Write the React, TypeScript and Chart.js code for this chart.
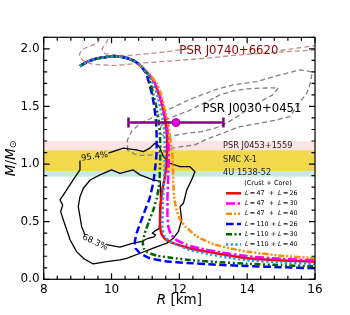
import React, { useEffect, useRef } from 'react';
import { Chart, registerables } from 'chart.js';
Chart.register(...registerables);

type P = [number, number];

// ---------- axes ----------
const X_MIN = 8, X_MAX = 16, Y_MIN = 0, Y_MAX = 2.1;
const X_STEP = 2, Y_STEP = 0.5;
const X_MINOR = 0.4, Y_MINOR = 0.1;

// ---------- mass-radius curves (R [km], M/Msun) ----------
const commonTop: P[] = [
  [9.07, 1.85], [9.3, 1.89], [9.6, 1.918], [9.9, 1.932], [10.15, 1.935],
  [10.45, 1.92], [10.7, 1.89], [10.88, 1.845],
];
const curve47_26: P[] = [
  [11.1, 1.78], [11.28, 1.7], [11.4, 1.6], [11.48, 1.53], [11.56, 1.42], [11.61, 1.32],
  [11.64, 1.2], [11.63, 1.04], [11.58, 0.9], [11.5, 0.78], [11.45, 0.65], [11.43, 0.5],
  [11.45, 0.42], [11.52, 0.37], [11.65, 0.335], [11.9, 0.305], [12.3, 0.27], [12.8, 0.24],
  [13.4, 0.21], [14, 0.182], [15, 0.164], [16, 0.152],
];
const curve47_30: P[] = [
  [11.1, 1.78], [11.29, 1.7], [11.42, 1.6], [11.5, 1.53], [11.58, 1.42], [11.64, 1.32],
  [11.68, 1.2], [11.69, 1.04], [11.67, 0.9], [11.65, 0.7], [11.65, 0.55], [11.68, 0.45],
  [11.75, 0.39], [11.92, 0.34], [12.22, 0.298], [12.6, 0.268], [13.2, 0.235], [14, 0.2],
  [15, 0.178], [16, 0.165],
];
const curve47_40: P[] = [
  [11.12, 1.78], [11.33, 1.7], [11.47, 1.6], [11.55, 1.5], [11.65, 1.38], [11.72, 1.25],
  [11.78, 1.12], [11.81, 1.0], [11.82, 0.85], [11.85, 0.7], [11.92, 0.6], [12.0, 0.53],
  [12.17, 0.46], [12.5, 0.375], [13.0, 0.305], [13.6, 0.262], [14, 0.24], [15, 0.205],
  [16, 0.183],
];
const curve110_26: P[] = [
  [11.03, 1.78], [11.11, 1.7], [11.2, 1.6], [11.26, 1.5], [11.31, 1.38], [11.33, 1.25],
  [11.33, 1.1], [11.3, 1.0], [11.24, 0.85], [11.12, 0.7], [10.99, 0.6], [10.85, 0.49],
  [10.74, 0.4], [10.69, 0.33], [10.71, 0.27], [10.84, 0.226], [11.13, 0.182],
  [11.63, 0.155], [12.22, 0.142], [13, 0.128], [14, 0.115], [15, 0.105], [16, 0.096],
];
const curve110_30: P[] = [
  [11.06, 1.78], [11.15, 1.7], [11.24, 1.6], [11.32, 1.5], [11.39, 1.38], [11.43, 1.25],
  [11.44, 1.1], [11.43, 1.0], [11.41, 0.83], [11.33, 0.7], [11.23, 0.6], [11.1, 0.5],
  [10.98, 0.4], [10.92, 0.32], [10.95, 0.27], [11.05, 0.235], [11.33, 0.205],
  [11.8, 0.185], [12.3, 0.168], [13, 0.152], [14, 0.135], [15, 0.122], [16, 0.112],
];
const curve110_40: P[] = [
  [11.08, 1.78], [11.22, 1.7], [11.35, 1.6], [11.43, 1.5], [11.5, 1.4], [11.55, 1.3],
  [11.57, 1.15], [11.57, 1.0], [11.55, 0.85], [11.52, 0.7], [11.5, 0.55], [11.5, 0.45],
  [11.55, 0.38], [11.7, 0.33], [12.0, 0.29], [12.3, 0.255], [12.8, 0.222], [13.4, 0.19],
  [14, 0.165], [15, 0.146], [16, 0.133],
];

const crustL = [47, 47, 47, 110, 110, 110];
const coreL = [26, 30, 40, 26, 30, 40];
const curveColors = ['#ff0000', '#ff00ff', '#ff8c00', '#0000ff', '#006400', '#1e90ff'];
const curveDashes: number[][] = [[], [9, 2.5, 2.5, 2.5], [6, 2, 2, 2, 2, 2], [7.5, 3.5], [6, 2.5, 2, 2.5, 2, 2.5], [2.2, 2.5]];
const curves: P[][] = [curve47_26, curve47_30, curve47_40, curve110_26, curve110_30, curve110_40];

// ---------- contours ----------
const black95: P[] = [
  [9.91, 1.094], [10.1, 1.115], [10.35, 1.138], [10.55, 1.13], [10.74, 1.123], [10.94, 1.108],
  [11.13, 1.138], [11.28, 1.181], [11.38, 1.16], [11.43, 1.138], [11.53, 1.065], [11.72, 1.007],
  [12.02, 0.978], [12.31, 0.978], [12.46, 0.934], [12.36, 0.862], [12.22, 0.776], [12.12, 0.66],
  [12.02, 0.63], [12.07, 0.515], [11.97, 0.413], [11.82, 0.356], [11.63, 0.313], [11.23, 0.27],
  [10.84, 0.226], [10.45, 0.182], [10.25, 0.168], [9.86, 0.153], [9.46, 0.133], [9.17, 0.182],
  [8.97, 0.24], [8.78, 0.341], [8.68, 0.428], [8.58, 0.515], [8.5, 0.587], [8.56, 0.645],
  [8.48, 0.689], [8.58, 0.732], [8.73, 0.8], [8.87, 0.862], [9.07, 0.949], [9.07, 1.03],
];
const black68: P[] = [
  [9.85, 0.3], [10.25, 0.28], [10.64, 0.313], [10.9, 0.33], [11.08, 0.356], [11.25, 0.368],
  [11.3, 0.385], [11.2, 0.4], [11.28, 0.42], [11.4, 0.44], [11.43, 0.5], [11.42, 0.6],
  [11.45, 0.7], [11.45, 0.8], [11.43, 0.85], [11.23, 0.862], [10.84, 0.906], [10.64, 0.949],
  [10.25, 0.92], [10.0, 0.949], [9.66, 0.906], [9.37, 0.862], [9.17, 0.79], [9.07, 0.717],
  [9.02, 0.63], [9.07, 0.544], [9.12, 0.457], [9.22, 0.385],
];
const grayOuter: P[] = [
  [10.47, 1.12], [10.47, 1.21], [10.6, 1.29], [10.89, 1.36], [11.18, 1.4], [11.87, 1.5],
  [12.3, 1.56], [12.66, 1.6], [13.05, 1.644], [13.59, 1.687], [14.28, 1.716], [14.97, 1.774],
  [15.56, 1.818], [15.92, 1.8], [15.86, 1.7], [15.76, 1.615], [15.6, 1.557], [15.26, 1.412],
  [14.87, 1.383], [14.38, 1.355], [13.79, 1.325], [13.4, 1.282], [13.0, 1.238], [12.76, 1.21],
  [12.46, 1.166], [12.07, 1.152], [11.77, 1.138], [11.48, 1.108], [11.18, 1.08], [10.89, 1.075],
  [10.69, 1.085], [10.47, 1.12],
];
const grayInner: P[] = [
  [11.45, 1.32], [11.58, 1.38], [11.97, 1.43], [12.26, 1.46], [12.8, 1.54], [13.2, 1.6],
  [13.59, 1.635], [14.0, 1.652], [14.38, 1.659], [14.92, 1.662], [14.75, 1.6], [14.48, 1.557],
  [14.1, 1.49], [13.7, 1.41], [13.35, 1.35], [13.05, 1.311], [12.66, 1.282], [12.26, 1.268],
  [11.9, 1.25], [11.58, 1.238], [11.42, 1.27], [11.45, 1.32],
];
const brownUpperRight: P[] = [
  [16.3, 2.035], [15.95, 2.026], [15.46, 2.006], [14.97, 1.985],
];
const brownMain: P[] = [
  [12.26, 2.0], [11.43, 1.968], [10.45, 1.94], [9.81, 1.956], [9.72, 2.0], [9.86, 2.06],
  [9.95, 2.13], [9.68, 2.13], [9.61, 2.06], [9.51, 2.04], [9.32, 2.02], [9.12, 1.99],
  [9.05, 1.95], [9.15, 1.9], [9.4, 1.87], [9.66, 1.861], [10.15, 1.855], [10.84, 1.876],
  [11.82, 1.896], [12.8, 1.919], [13.79, 1.948], [14.77, 1.968], [16.3, 1.995],
];

// ---------- PSR J0030+0451 error bar ----------
const errMass = 1.36;
const errR = 11.9, errRLow = 10.5, errRHigh = 13.3;

// ---------- bands ----------
const bandNames = ['PSR J0453+1559', 'SMC X-1', '4U 1538-52'];
const bandLow = [1.12, 0.94, 0.89];
const bandHigh = [1.2, 1.12, 0.94];
const bandLabelM = [1.16, 1.04, 0.925];
const bandLabelR = 13.29;
const bandColors = ['#fce3e4', '#f1d84c', '#c9e6ea'];

// ---------- annotations ----------
const labelJ0740 = { text: 'PSR J0740+6620', r: 13.46, m: 1.983 };
const labelJ0030 = { text: 'PSR J0030+0451', r: 14.14, m: 1.48 };
const label95 = { text: '95.4%', r: 9.5, m: 1.065, rot: -8 };
const label68 = { text: '68.3%', r: 9.51, m: 0.32, rot: 25 };

const FONT = '"DejaVu Sans", sans-serif';
const toXY = (pts: P[]) => pts.map(([x, y]) => ({ x, y }));

type Piece = { t: string; it?: boolean; s?: number; dy?: number };
function pieceFont(p: Piece, size: number) {
  return `${p.it ? 'italic ' : ''}${size * (p.s || 1)}px ${FONT}`;
}
function drawRich(ctx: CanvasRenderingContext2D, x: number, y: number, pieces: Piece[], size: number, align: 'left' | 'center', color: string) {
  let w = 0;
  for (const p of pieces) { ctx.font = pieceFont(p, size); w += ctx.measureText(p.t).width; }
  let cx = align === 'center' ? x - w / 2 : x;
  ctx.textAlign = 'left';
  ctx.textBaseline = 'middle';
  ctx.fillStyle = color;
  for (const p of pieces) {
    ctx.font = pieceFont(p, size);
    ctx.fillText(p.t, cx, y + (p.dy || 0));
    cx += ctx.measureText(p.t).width;
  }
}

const lineDs = (pts: P[], color: string, width: number, dash: number[], order: number, tension = 0) => ({
  data: toXY(pts), showLine: true, borderColor: color, backgroundColor: color, borderWidth: width,
  borderDash: dash, pointRadius: 0, pointHoverRadius: 0, fill: false, tension, order,
  borderCapStyle: 'butt', borderJoinStyle: 'round',
});

const overlayPlugin = {
  id: 'overlay',
  beforeDatasetsDraw(chart: any) {
    const { ctx, chartArea: a, scales } = chart;
    const y = scales.y;
    ctx.save();
    bandLow.forEach((lo, i) => {
      const yt = y.getPixelForValue(bandHigh[i]);
      const yb = y.getPixelForValue(lo);
      ctx.fillStyle = bandColors[i];
      ctx.fillRect(a.left, yt, a.right - a.left, yb - yt);
    });
    ctx.restore();
  },
  afterDatasetsDraw(chart: any) {
    const { ctx, chartArea: a, scales } = chart;
    const x = scales.x, y = scales.y;
    ctx.save();
    bandNames.forEach((n, i) => {
      ctx.font = `8.2px ${FONT}`;
      ctx.fillStyle = '#222';
      ctx.textAlign = 'left';
      ctx.textBaseline = 'middle';
      ctx.fillText(n, x.getPixelForValue(bandLabelR), y.getPixelForValue(bandLabelM[i]));
    });
    ctx.font = `11.7px ${FONT}`;
    ctx.textAlign = 'center';
    ctx.textBaseline = 'middle';
    ctx.fillStyle = '#8b0000';
    ctx.fillText(labelJ0740.text, x.getPixelForValue(labelJ0740.r), y.getPixelForValue(labelJ0740.m));
    ctx.fillStyle = '#000';
    ctx.fillText(labelJ0030.text, x.getPixelForValue(labelJ0030.r), y.getPixelForValue(labelJ0030.m));
    for (const l of [label95, label68]) {
      ctx.save();
      ctx.translate(x.getPixelForValue(l.r), y.getPixelForValue(l.m));
      ctx.rotate((l.rot * Math.PI) / 180);
      ctx.font = `8.5px ${FONT}`;
      ctx.fillStyle = '#000';
      ctx.fillText(l.text, 0, 0);
      ctx.restore();
    }
    const curveSets = chart.data.datasets.slice(0, 6);
    const lx0 = a.right - 89, lx1 = a.right - 74, tx = a.right - 70;
    drawRich(ctx, a.right - 47, a.bottom - 96, [{ t: '(Crust + Core)' }], 6.6, 'center', '#000');
    curveSets.forEach((ds: any, i: number) => {
      const ry = a.bottom - 86 + i * 10.25;
      ctx.save();
      ctx.strokeStyle = ds.borderColor;
      ctx.lineWidth = ds.borderWidth;
      ctx.setLineDash(ds.borderDash);
      ctx.lineCap = 'butt';
      ctx.beginPath();
      ctx.moveTo(lx0, ry);
      ctx.lineTo(lx1, ry);
      ctx.stroke();
      ctx.restore();
      drawRich(ctx, tx, ry, [
        { t: 'L', it: true }, { t: `\u2009=\u2009${crustL[i]}` }, { t: crustL[i] < 100 ? '  +  ' : ' + ' },
        { t: 'L', it: true }, { t: `\u2009=\u2009${coreL[i]}` },
      ], 6.4, 'left', '#000');
    });
    ctx.restore();
  },
  afterDraw(chart: any) {
    const { ctx, chartArea: a, scales } = chart;
    const x = scales.x, y = scales.y;
    ctx.save();
    ctx.strokeStyle = '#000';
    ctx.lineWidth = 1.2;
    ctx.setLineDash([]);
    ctx.strokeRect(a.left, a.top, a.right - a.left, a.bottom - a.top);
    const maj = 6, min = 3.5;
    ctx.beginPath();
    const nx = Math.round((X_MAX - X_MIN) / X_MINOR);
    for (let k = 0; k <= nx; k++) {
      const v = X_MIN + k * X_MINOR;
      const isMaj = Math.abs((v - X_MIN) / X_STEP - Math.round((v - X_MIN) / X_STEP)) < 1e-6;
      const L = isMaj ? maj : min;
      const px = x.getPixelForValue(v);
      ctx.moveTo(px, a.bottom); ctx.lineTo(px, a.bottom - L);
      ctx.moveTo(px, a.top); ctx.lineTo(px, a.top + L);
    }
    const ny = Math.round((Y_MAX - Y_MIN) / Y_MINOR);
    for (let k = 0; k <= ny; k++) {
      const v = Y_MIN + k * Y_MINOR;
      const isMaj = Math.abs((v - Y_MIN) / Y_STEP - Math.round((v - Y_MIN) / Y_STEP)) < 1e-6;
      const L = isMaj ? maj : min;
      const py = y.getPixelForValue(v);
      ctx.moveTo(a.left, py); ctx.lineTo(a.left + L, py);
      ctx.moveTo(a.right, py); ctx.lineTo(a.right - L, py);
    }
    ctx.stroke();
    drawRich(ctx, (a.left + a.right) / 2, 300, [{ t: 'R', it: true }, { t: ' [km]' }], 13.5, 'center', '#000');
    ctx.save();
    ctx.translate(11, (a.top + a.bottom) / 2);
    ctx.rotate(-Math.PI / 2);
    drawRich(ctx, 0, 0, [{ t: 'M', it: true }, { t: '/' }, { t: 'M', it: true }, { t: '\u2299', s: 0.7, dy: 3 }], 13.5, 'center', '#000');
    ctx.restore();
    ctx.restore();
  },
};

export default function App() {
  const ref = useRef<HTMLCanvasElement>(null);
  useEffect(() => {
    const curveDatasets = curves.map((c, i) =>
      lineDs([...commonTop, ...c], curveColors[i], 2.5, curveDashes[i], 6 - i, 0.1));
    const datasets: any[] = [
      ...curveDatasets,
      lineDs(black95, '#000', 1.3, [], 20),
      lineDs(black68, '#000', 1.3, [], 20),
      lineDs(grayOuter, '#808080', 1.3, [5, 3], 21),
      lineDs(grayInner, '#808080', 1.3, [5, 3], 21),
      lineDs(brownUpperRight, '#bc8f8f', 1.3, [5, 3], 21),
      lineDs(brownMain, '#bc8f8f', 1.3, [5, 3], 21),
      {
        data: [{ x: errRLow, y: errMass }, { x: errRHigh, y: errMass }], showLine: true,
        borderColor: '#800080', borderWidth: 2.5, pointStyle: 'line', rotation: 90,
        pointRadius: 5, pointBorderWidth: 2.5, pointBorderColor: '#800080', order: 0,
      },
      {
        data: [{ x: errR, y: errMass }], showLine: false, pointRadius: 4,
        pointBackgroundColor: '#e000e0', pointBorderColor: '#a000a0', pointBorderWidth: 1, order: -1,
      },
    ];
    Chart.defaults.font.family = FONT;
    const chart = new Chart(ref.current!, {
      type: 'scatter',
      data: { datasets },
      options: {
        responsive: false,
        maintainAspectRatio: false,
        devicePixelRatio: 1,
        animation: false,
        layout: { padding: { top: 37.3, right: 35, left: 0, bottom: 0 } },
        plugins: { legend: { display: false }, tooltip: { enabled: false } },
        events: [],
        scales: {
          x: {
            type: 'linear', min: X_MIN, max: X_MAX,
            grid: { display: false, drawTicks: false }, border: { display: false },
            ticks: { stepSize: X_STEP, color: '#000', font: { size: 12 }, padding: 3, maxRotation: 0, includeBounds: false,
              callback: (v: any) => String(v) },
            afterFit: (s: any) => { s.height = 35.7; },
          },
          y: {
            type: 'linear', min: Y_MIN, max: Y_MAX,
            grid: { display: false, drawTicks: false }, border: { display: false },
            ticks: { stepSize: Y_STEP, color: '#000', font: { size: 12 }, padding: 4, includeBounds: false,
              callback: (v: any) => Number(v).toFixed(1) },
            afterFit: (s: any) => { s.width = 43.7; },
          },
        },
      } as any,
      plugins: [overlayPlugin],
    });
    return () => chart.destroy();
  }, []);
  return (
    <div style={{ position: 'fixed', left: 0, top: 0, width: 350, height: 315, background: '#fff' }}>
      <canvas ref={ref} width={350} height={315} style={{ width: 350, height: 315, display: 'block' }} />
    </div>
  );
}
